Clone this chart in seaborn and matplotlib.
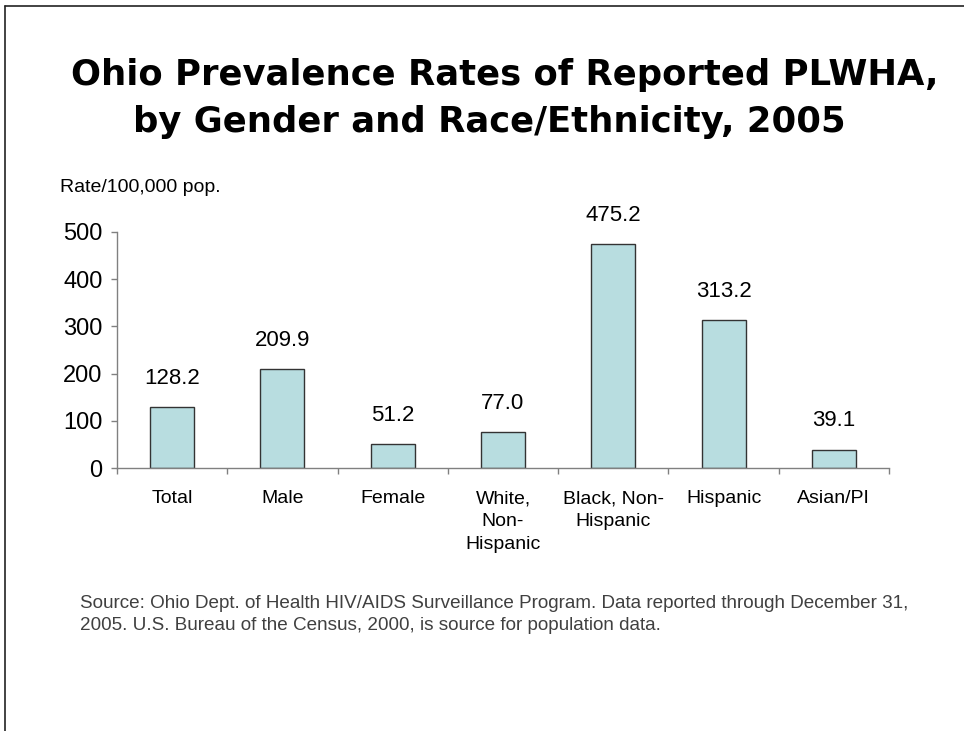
import numpy as np
import pandas as pd
import seaborn as sns
import matplotlib.pyplot as plt
from matplotlib.lines import Line2D

# chart values
categories = ["Total", "Male", "Female", "White,\nNon-\nHispanic",
              "Black, Non-\nHispanic", "Hispanic", "Asian/PI"]
rates = [128.2, 209.9, 51.2, 77.0, 475.2, 313.2, 39.1]
y_ticks = [0, 100, 200, 300, 400, 500]

df = pd.DataFrame({"group": categories, "rate": rates})

sns.set_style("white")
plt.rcParams["font.family"] = ["Liberation Sans", "DejaVu Sans"]
plt.rcParams["text.color"] = "black"
plt.rcParams["xtick.color"] = "black"
plt.rcParams["ytick.color"] = "black"

fig = plt.figure(figsize=(9.64, 7.31), dpi=100)
ax = fig.add_axes([117 / 964, 1 - 468 / 731, (889 - 117) / 964, (468 - 232) / 731])

sns.barplot(data=df, x="group", y="rate", width=0.4, color="#B8DDE0",
            edgecolor="#333333", linewidth=1, saturation=1, ax=ax)

ax.set_xlim(-0.5, len(categories) - 0.5)
ax.set_ylim(0, 500)
ax.set_yticks(y_ticks)
ax.set_yticklabels([str(t) for t in y_ticks], fontsize=17)
ax.set_xlabel("")
ax.set_ylabel("")

# category boundary ticks
ax.set_xticks(np.arange(len(categories)))
ax.set_xticklabels(categories, fontsize=14, linespacing=1.45, va="top")
ax.tick_params(axis="x", which="major", length=0, pad=16)
ax.set_xticks(np.arange(-0.5, len(categories)), minor=True)
ax.tick_params(axis="x", which="minor", length=4, width=1, color="#808080",
               direction="out", bottom=True)
ax.tick_params(axis="y", length=4.5, width=1, color="#808080", labelcolor="black",
               direction="out", left=True, pad=6)

for s in ["top", "right"]:
    ax.spines[s].set_visible(False)
for s in ["left", "bottom"]:
    ax.spines[s].set_color("#808080")
    ax.spines[s].set_linewidth(1)

for c in ax.containers:
    ax.bar_label(c, labels=[f"{v:.1f}" for v in rates], padding=13, fontsize=16,
                 color="black")

fig.text(505 / 964, 1 - 75 / 731, "Ohio Prevalence Rates of Reported PLWHA,",
         ha="center", va="center", fontsize=25.5, fontweight="heavy",
         family="DejaVu Sans", color="black")
fig.text(489 / 964, 1 - 122 / 731, "by Gender and Race/Ethnicity, 2005",
         ha="center", va="center", fontsize=25.5, fontweight="heavy",
         family="DejaVu Sans", color="black")

fig.text(60 / 964, 1 - 188 / 731, "Rate/100,000 pop.", ha="left", va="center",
         fontsize=14)

fig.text(80 / 964, 1 - 603 / 731,
         "Source: Ohio Dept. of Health HIV/AIDS Surveillance Program. Data reported through December 31,",
         ha="left", va="center", fontsize=13.6, color="#404040")
fig.text(80 / 964, 1 - 626 / 731,
         "2005. U.S. Bureau of the Census, 2000, is source for population data.",
         ha="left", va="center", fontsize=13.6, color="#404040")

# slide border
fig.add_artist(Line2D([5 / 964, 5 / 964], [0, 1 - 6 / 731], color="#222222", lw=1.2))
fig.add_artist(Line2D([5 / 964, 1], [1 - 6 / 731, 1 - 6 / 731], color="#222222", lw=1.2))

fig.savefig("out.png", dpi=100)
